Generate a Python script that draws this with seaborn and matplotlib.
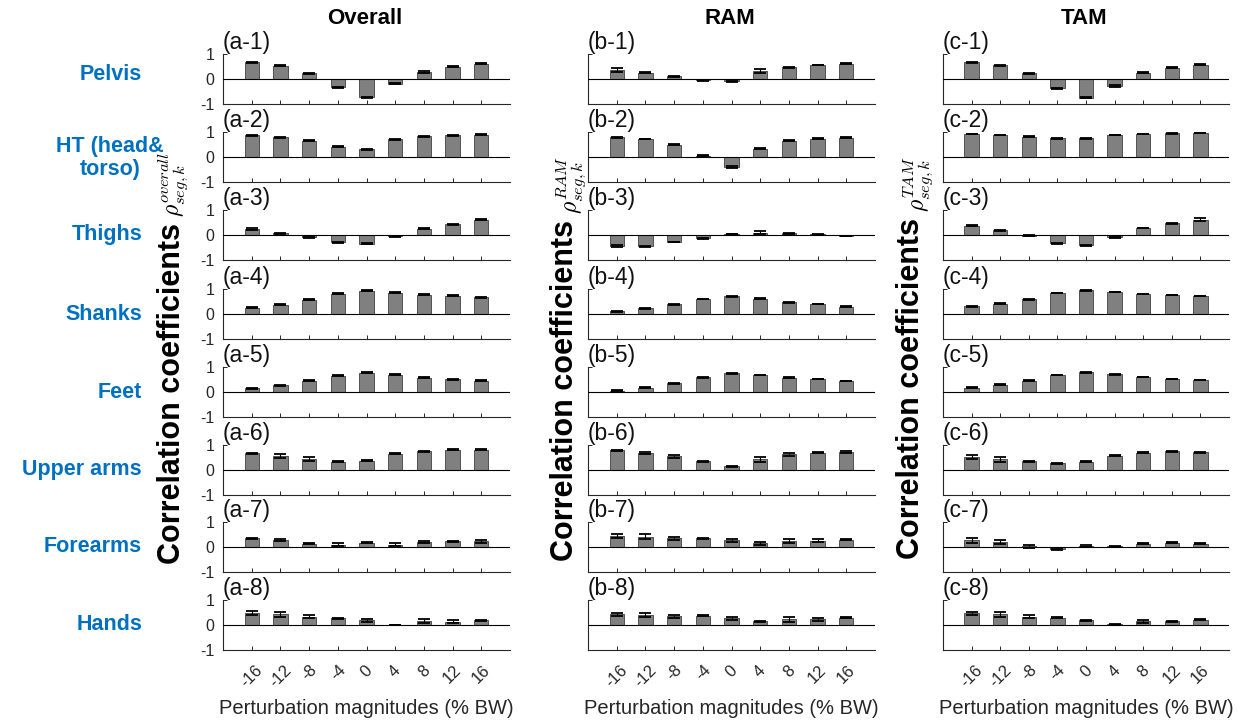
import numpy as np
import pandas as pd
import matplotlib
matplotlib.use("Agg")
import matplotlib.pyplot as plt
import seaborn as sns

# ---------------- data ----------------
magnitudes = ["-16", "-12", "-8", "-4", "0", "4", "8", "12", "16"]
segments = ["Pelvis", "HT (head&\ntorso)", "Thighs", "Shanks", "Feet",
            "Upper arms", "Forearms", "Hands"]
methods = ["Overall", "RAM", "TAM"]
method_tags = ["overall", "RAM", "TAM"]
panel_letters = ["a", "b", "c"]

# Overall
ov_pelvis = [0.68, 0.53, 0.23, -0.33, -0.73, -0.19, 0.29, 0.49, 0.61]
ov_ht = [0.88, 0.80, 0.65, 0.41, 0.31, 0.71, 0.83, 0.87, 0.89]
ov_thighs = [0.25, 0.07, -0.09, -0.29, -0.35, -0.05, 0.25, 0.43, 0.60]
ov_shanks = [0.26, 0.38, 0.57, 0.81, 0.93, 0.85, 0.77, 0.73, 0.67]
ov_feet = [0.16, 0.28, 0.45, 0.66, 0.77, 0.70, 0.58, 0.52, 0.46]
ov_uarms = [0.67, 0.57, 0.45, 0.33, 0.38, 0.65, 0.76, 0.82, 0.82]
ov_farms = [0.36, 0.29, 0.13, 0.09, 0.17, 0.09, 0.20, 0.24, 0.24]
ov_hands = [0.48, 0.43, 0.33, 0.27, 0.19, 0.01, 0.16, 0.13, 0.20]
ov_pelvis_err = [0.02, 0.02, 0.02, 0.02, 0.02, 0.02, 0.05, 0.02, 0.02]
ov_ht_err = [0.02, 0.02, 0.02, 0.02, 0.02, 0.02, 0.02, 0.02, 0.02]
ov_thighs_err = [0.05, 0.02, 0.04, 0.02, 0.02, 0.02, 0.02, 0.02, 0.02]
ov_shanks_err = [0.02, 0.02, 0.02, 0.02, 0.02, 0.02, 0.02, 0.02, 0.02]
ov_feet_err = [0.02, 0.02, 0.02, 0.02, 0.02, 0.02, 0.02, 0.02, 0.02]
ov_uarms_err = [0.02, 0.07, 0.07, 0.02, 0.02, 0.02, 0.02, 0.02, 0.02]
ov_farms_err = [0.02, 0.05, 0.02, 0.06, 0.02, 0.06, 0.05, 0.02, 0.06]
ov_hands_err = [0.07, 0.09, 0.06, 0.02, 0.05, 0.01, 0.07, 0.06, 0.02]

# RAM
ram_pelvis = [0.35, 0.25, 0.12, -0.04, -0.08, 0.32, 0.48, 0.56, 0.61]
ram_ht = [0.80, 0.72, 0.49, 0.05, -0.40, 0.33, 0.65, 0.73, 0.77]
ram_thighs = [-0.44, -0.44, -0.28, -0.12, 0.04, 0.09, 0.07, 0.03, -0.03]
ram_shanks = [0.11, 0.24, 0.40, 0.60, 0.71, 0.61, 0.47, 0.40, 0.29]
ram_feet = [0.05, 0.17, 0.35, 0.59, 0.75, 0.68, 0.57, 0.52, 0.44]
ram_uarms = [0.80, 0.68, 0.56, 0.35, 0.16, 0.43, 0.63, 0.69, 0.73]
ram_farms = [0.44, 0.41, 0.36, 0.36, 0.28, 0.15, 0.25, 0.25, 0.29]
ram_hands = [0.44, 0.41, 0.36, 0.37, 0.28, 0.15, 0.24, 0.24, 0.29]
ram_pelvis_err = [0.08, 0.02, 0.02, 0.02, 0.02, 0.07, 0.02, 0.01, 0.02]
ram_ht_err = [0.02, 0.01, 0.02, 0.02, 0.05, 0.02, 0.02, 0.02, 0.02]
ram_thighs_err = [0.05, 0.02, 0.01, 0.02, 0.01, 0.06, 0.02, 0.01, 0.01]
ram_shanks_err = [0.02, 0.02, 0.02, 0.01, 0.02, 0.02, 0.01, 0.01, 0.02]
ram_feet_err = [0.02, 0.02, 0.02, 0.02, 0.01, 0.01, 0.02, 0.01, 0.01]
ram_uarms_err = [0.02, 0.05, 0.06, 0.01, 0.02, 0.10, 0.06, 0.02, 0.05]
ram_farms_err = [0.07, 0.10, 0.06, 0.02, 0.06, 0.05, 0.08, 0.06, 0.02]
ram_hands_err = [0.06, 0.09, 0.06, 0.02, 0.06, 0.02, 0.10, 0.06, 0.02]

# TAM
tam_pelvis = [0.68, 0.55, 0.23, -0.36, -0.75, -0.27, 0.25, 0.45, 0.57]
tam_ht = [0.92, 0.88, 0.81, 0.75, 0.75, 0.88, 0.92, 0.95, 0.96]
tam_thighs = [0.37, 0.19, -0.03, -0.32, -0.41, -0.08, 0.28, 0.47, 0.61]
tam_shanks = [0.31, 0.41, 0.59, 0.84, 0.95, 0.88, 0.80, 0.76, 0.72]
tam_feet = [0.17, 0.29, 0.45, 0.68, 0.79, 0.71, 0.60, 0.52, 0.48]
tam_uarms = [0.52, 0.44, 0.36, 0.27, 0.33, 0.57, 0.69, 0.75, 0.72]
tam_farms = [0.27, 0.20, 0.04, -0.07, 0.03, 0.03, 0.13, 0.17, 0.13]
tam_hands = [0.48, 0.44, 0.33, 0.29, 0.20, 0.03, 0.16, 0.15, 0.21]
tam_pelvis_err = [0.02, 0.02, 0.02, 0.02, 0.02, 0.05, 0.02, 0.02, 0.02]
tam_ht_err = [0.01, 0.01, 0.02, 0.02, 0.02, 0.01, 0.01, 0.01, 0.01]
tam_thighs_err = [0.02, 0.02, 0.02, 0.02, 0.01, 0.02, 0.01, 0.02, 0.06]
tam_shanks_err = [0.02, 0.02, 0.02, 0.01, 0.02, 0.01, 0.01, 0.01, 0.01]
tam_feet_err = [0.02, 0.02, 0.02, 0.01, 0.02, 0.02, 0.01, 0.01, 0.01]
tam_uarms_err = [0.07, 0.10, 0.02, 0.02, 0.02, 0.02, 0.02, 0.02, 0.02]
tam_farms_err = [0.10, 0.09, 0.06, 0.03, 0.04, 0.03, 0.02, 0.02, 0.02]
tam_hands_err = [0.06, 0.10, 0.06, 0.02, 0.02, 0.03, 0.06, 0.02, 0.02]

values = [
    [ov_pelvis, ov_ht, ov_thighs, ov_shanks, ov_feet, ov_uarms, ov_farms, ov_hands],
    [ram_pelvis, ram_ht, ram_thighs, ram_shanks, ram_feet, ram_uarms, ram_farms, ram_hands],
    [tam_pelvis, tam_ht, tam_thighs, tam_shanks, tam_feet, tam_uarms, tam_farms, tam_hands],
]
errors = [
    [ov_pelvis_err, ov_ht_err, ov_thighs_err, ov_shanks_err, ov_feet_err, ov_uarms_err, ov_farms_err, ov_hands_err],
    [ram_pelvis_err, ram_ht_err, ram_thighs_err, ram_shanks_err, ram_feet_err, ram_uarms_err, ram_farms_err, ram_hands_err],
    [tam_pelvis_err, tam_ht_err, tam_thighs_err, tam_shanks_err, tam_feet_err, tam_uarms_err, tam_farms_err, tam_hands_err],
]

# ---------------- style ----------------
sns.set_style("ticks")
plt.rcParams["font.family"] = ["Liberation Sans", "DejaVu Sans"]
plt.rcParams["mathtext.fontset"] = "cm"

W, H = 1253, 723
fig = plt.figure(figsize=(W / 100, H / 100), dpi=100)
fig.patch.set_facecolor("white")

AXC = "#262626"
BAR = "#808080"
EDGE = "#404040"
BLUE = "#0070C0"

col_left = [223, 588, 943]
col_width = [287, 287, 286]
row_top = [54, 132, 210, 289, 367, 445, 522, 600]
row_h = 50


def fx(px):
    return px / W


def fy(py):
    return 1 - py / H


for ci in range(3):
    for ri in range(8):
        l = fx(col_left[ci])
        b = fy(row_top[ri] + row_h)
        ax = fig.add_axes([l, b, col_width[ci] / W, row_h / H])
        ax.set_facecolor("none")
        vals = values[ci][ri]
        errs = errors[ci][ri]
        df = pd.DataFrame({"mag": magnitudes, "rho": vals})
        sns.barplot(data=df, x="mag", y="rho", order=magnitudes, color=BAR,
                    saturation=1, width=0.5, edgecolor=EDGE, linewidth=0.6,
                    errorbar=None, ax=ax, zorder=2)
        ax.errorbar(np.arange(len(magnitudes)), vals, yerr=errs, fmt="none",
                    ecolor="black", elinewidth=0.8, capsize=4, capthick=1.3,
                    zorder=4)
        ax.axhline(0, color="black", lw=0.8, zorder=3)
        ax.set_xlim(-1, 9)
        ax.set_ylim(-1, 1)
        ax.set_yticks([-1, 0, 1])
        ax.set_xlabel("")
        ax.set_ylabel("")
        for s in ["top", "right"]:
            ax.spines[s].set_visible(False)
        for s in ["left", "bottom"]:
            ax.spines[s].set_color(AXC)
            ax.spines[s].set_linewidth(0.8)
        ax.tick_params(axis="both", direction="in", length=3, width=0.7,
                       color=AXC, labelcolor=AXC, labelsize=11.5)
        ax.tick_params(axis="y", pad=6)
        if ci == 0:
            ax.set_yticklabels(["-1", "0", "1"])
        else:
            ax.set_yticklabels([])
        if ri < 7:
            ax.set_xticklabels([])
        else:
            ax.tick_params(axis="x", pad=9, labelsize=12)
            for t in ax.get_xticklabels():
                t.set_rotation(45)
                t.set_ha("center")
        ax.text(0.0, 1.0, f"({panel_letters[ci]}-{ri + 1})",
                transform=ax.transAxes, ha="left", va="bottom",
                fontsize=16.5, color="#111111")

    # column title
    cx = col_left[ci] + col_width[ci] / 2
    fig.text(fx(cx - 2), fy(18), methods[ci], ha="center", va="center",
             fontsize=16, fontweight="bold", color="black")
    # x label
    fig.text(fx(cx), fy(708), "Perturbation magnitudes (% BW)",
             ha="center", va="center", fontsize=14.5, color=AXC)

# row labels
for ri, seg in enumerate(segments):
    yc = row_top[ri] + row_h / 2 - (4 if ri == 0 else 0)
    if "\n" in seg:
        fig.text(fx(110), fy(yc + 1), seg, ha="center", va="center",
                 multialignment="center", fontsize=15.5, fontweight="bold",
                 color=BLUE, linespacing=1.1)
    else:
        fig.text(fx(142), fy(yc), seg, ha="right", va="center",
                 fontsize=15.5, fontweight="bold", color=BLUE)

# y labels (bold words + smaller math symbol)
ylab_x = [(172, 174), (565, 571), (911, 918)]
renderer = fig.canvas.get_renderer()
for ci in range(3):
    t1 = fig.text(fx(ylab_x[ci][0]), 0.5, "Correlation coefficients",
                  rotation=90, ha="center", va="bottom", fontsize=22,
                  fontweight="bold", color="black")
    t2 = fig.text(fx(ylab_x[ci][1]), 0.5,
                  r"$\rho^{%s}_{seg,k}$" % method_tags[ci],
                  rotation=90, ha="center", va="bottom", fontsize=17,
                  color="black")
    h1 = t1.get_window_extent(renderer).height
    h2 = t2.get_window_extent(renderer).height
    gap = 6
    total = h1 + gap + h2
    center = 358
    ybot = center + total / 2  # pixel from top
    t1.set_y(fy(ybot))
    t2.set_y(fy(ybot - h1 - gap))

fig.savefig("out.png", dpi=100, facecolor="white")
